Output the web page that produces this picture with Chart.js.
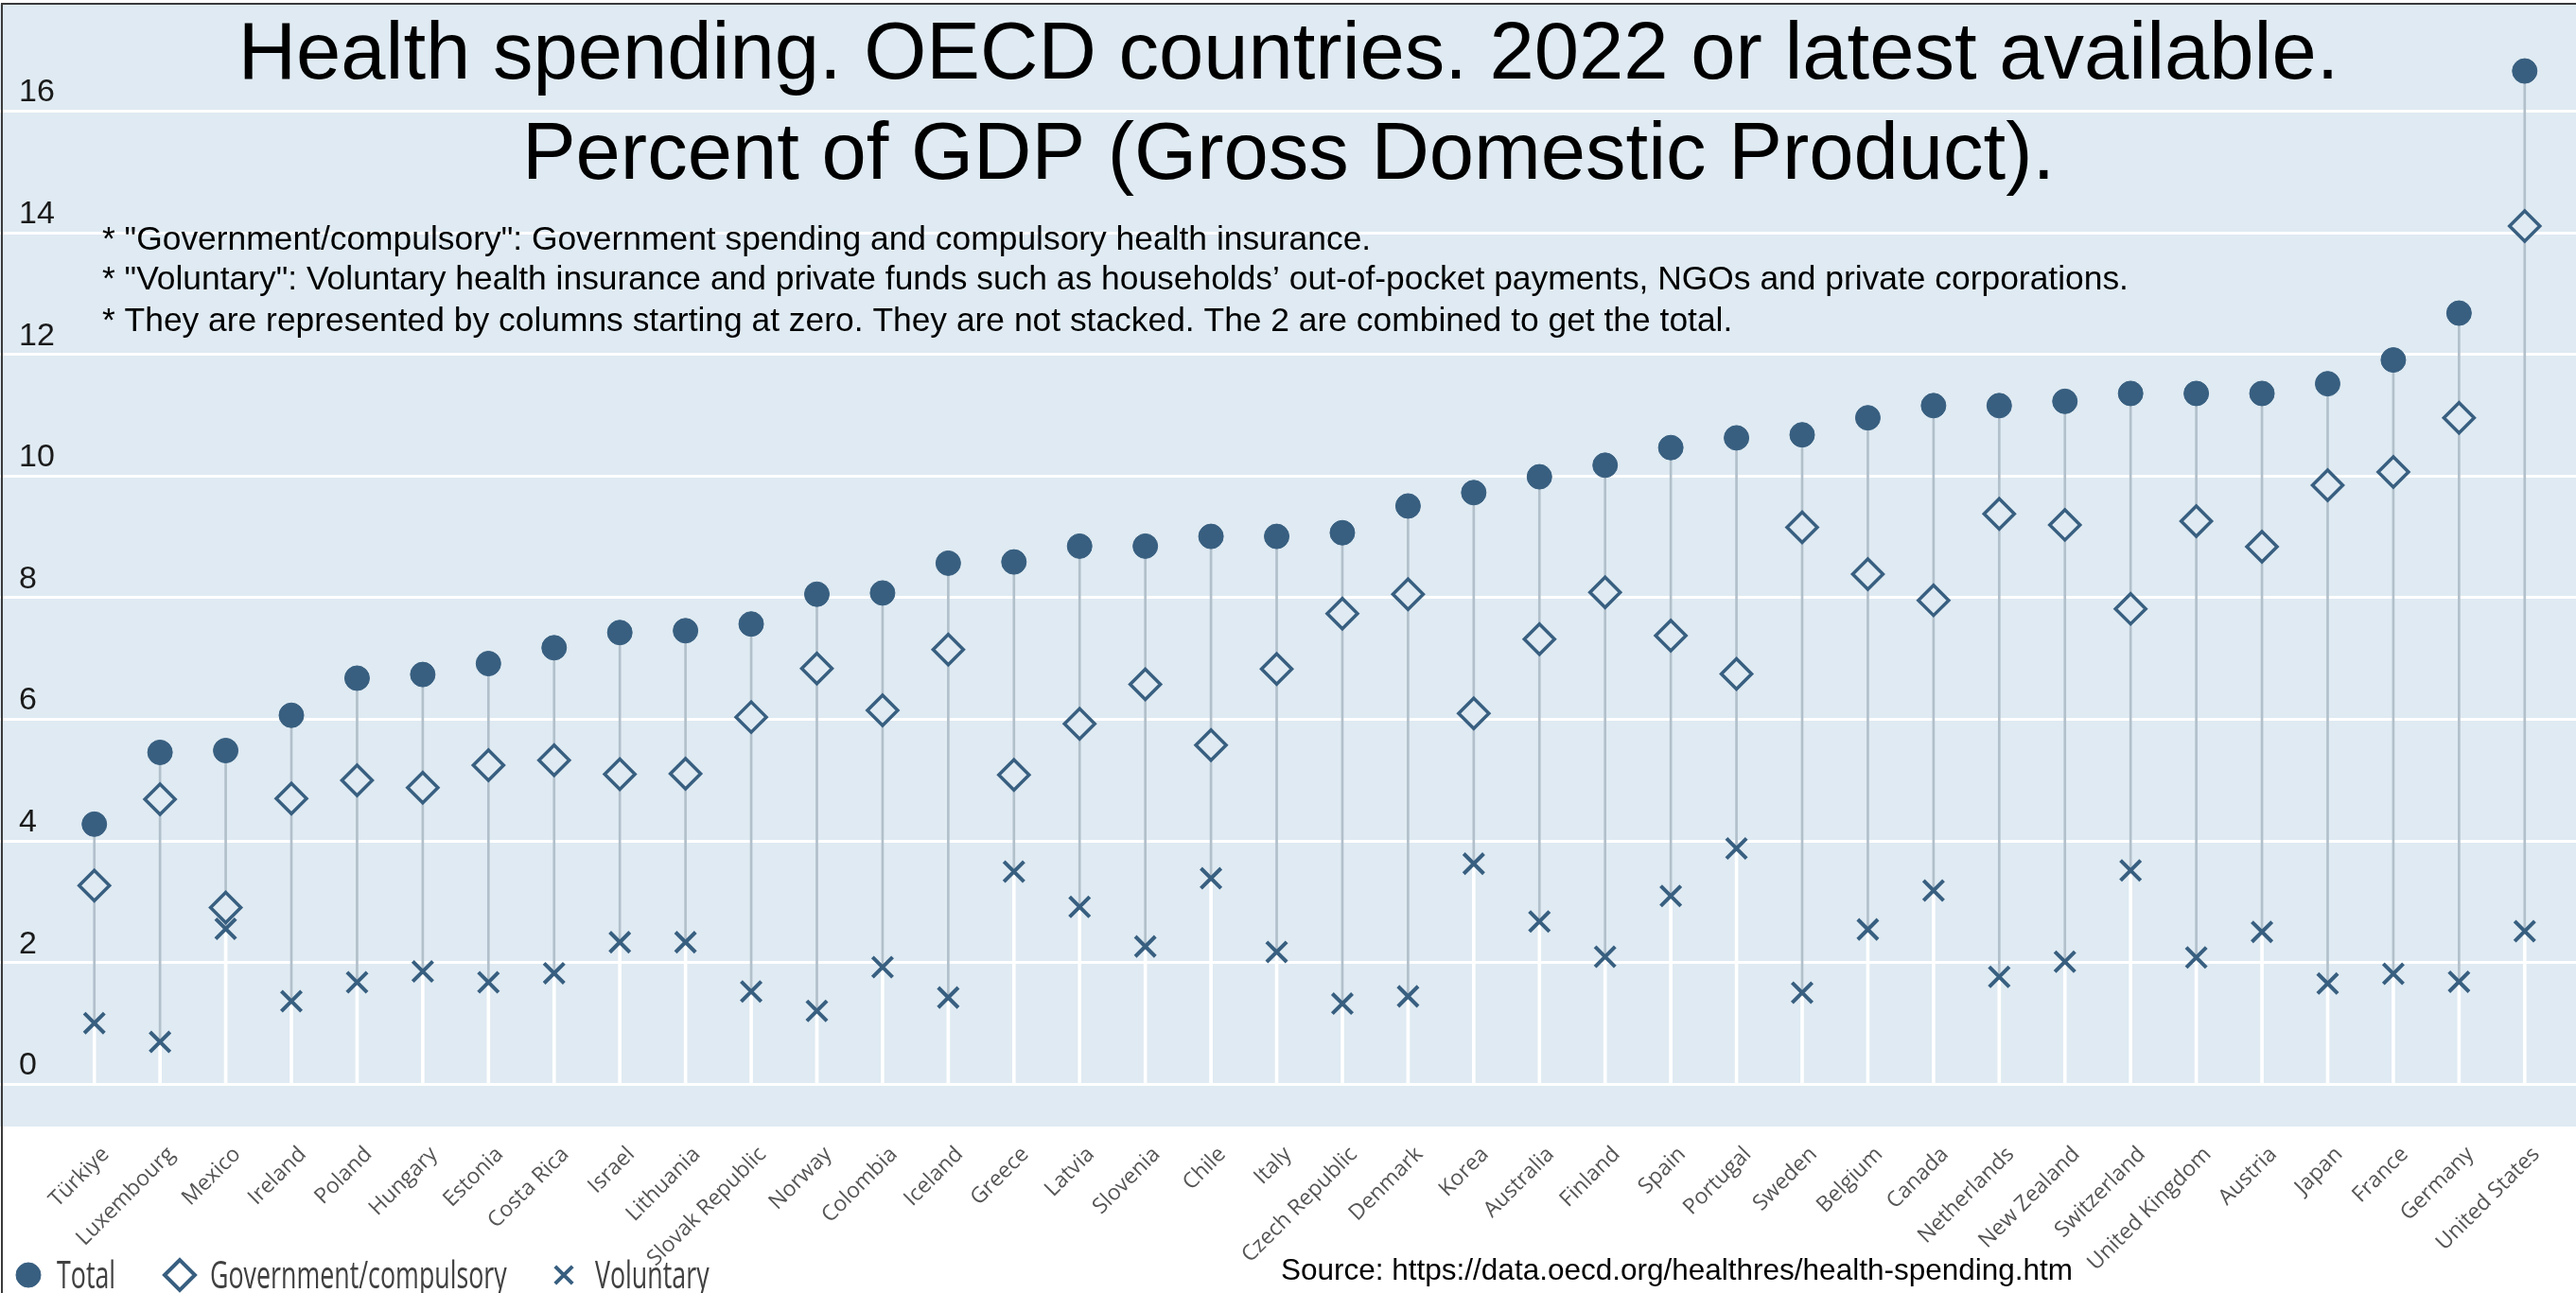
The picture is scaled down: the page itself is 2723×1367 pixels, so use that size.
<!DOCTYPE html>
<html>
<head>
<meta charset="utf-8">
<title>Health spending. OECD countries</title>
<script src="https://cdn.jsdelivr.net/npm/chart.js@4.4.1/dist/chart.umd.min.js"></script>
<style>
  html, body { margin: 0; padding: 0; background: #fff; }
  #wrap { width: 2723px; height: 1367px; position: relative; }
</style>
</head>
<body>
<div id="wrap"><canvas id="myChart"></canvas></div>
<script>
// countries, sorted by total spending
const countries = ['Türkiye', 'Luxembourg', 'Mexico', 'Ireland', 'Poland', 'Hungary', 'Estonia', 'Costa Rica',
  'Israel', 'Lithuania', 'Slovak Republic', 'Norway', 'Colombia', 'Iceland', 'Greece', 'Latvia', 'Slovenia',
  'Chile', 'Italy', 'Czech Republic', 'Denmark', 'Korea', 'Australia', 'Finland', 'Spain', 'Portugal', 'Sweden',
  'Belgium', 'Canada', 'Netherlands', 'New Zealand', 'Switzerland', 'United Kingdom', 'Austria', 'Japan',
  'France', 'Germany', 'United States'];

// % of GDP
const total = [4.27, 5.45, 5.48, 6.06, 6.67, 6.73, 6.91, 7.17, 7.42, 7.45, 7.56, 8.05, 8.07, 8.56, 8.58, 8.84,
  8.84, 9.0, 9.0, 9.06, 9.50, 9.72, 9.98, 10.17, 10.46, 10.62, 10.67, 10.95, 11.15, 11.15, 11.22, 11.35, 11.35,
  11.35, 11.51, 11.9, 12.67, 16.65];
const government = [3.26, 4.68, 2.90, 4.69, 4.99, 4.87, 5.24, 5.32, 5.09, 5.10, 6.03, 6.83, 6.14, 7.14, 5.08,
  5.92, 6.57, 5.57, 6.82, 7.73, 8.05, 6.09, 7.31, 8.08, 7.37, 6.74, 9.15, 8.38, 7.95, 9.37, 9.19, 7.81, 9.25,
  8.83, 9.84, 10.06, 10.95, 14.1];
const voluntary = [1.0, 0.69, 2.55, 1.36, 1.67, 1.85, 1.67, 1.82, 2.33, 2.33, 1.52, 1.20, 1.92, 1.42, 3.49,
  2.91, 2.26, 3.38, 2.17, 1.32, 1.44, 3.62, 2.67, 2.09, 3.09, 3.87, 1.50, 2.54, 3.18, 1.76, 2.01, 3.51, 2.08,
  2.50, 1.65, 1.81, 1.68, 2.51];

const yTicks = [0, 2, 4, 6, 8, 10, 12, 14, 16];

const titleLines = ['Health spending. OECD countries. 2022 or latest available.',
  'Percent of GDP (Gross Domestic Product).'];
const notes = ['* "Government/compulsory": Government spending and compulsory health insurance.',
  '* "Voluntary": Voluntary health insurance and private funds such as households\u2019 out-of-pocket payments, NGOs and private corporations.',
  '* They are represented by columns starting at zero. They are not stacked. The 2 are combined to get the total.'];
const sourceText = 'Source: https://data.oecd.org/healthres/health-spending.htm';

const markColor = '#385f80';
const plotBg = '#dfeaf2';

const lowest = countries.map((c, i) => Math.min(government[i], voluntary[i]));

const decorations = {
  id: 'decorations',
  beforeDraw(chart) {
    const { ctx, chartArea, scales } = chart;
    const y = scales.y;
    ctx.save();
    ctx.fillStyle = plotBg;
    ctx.fillRect(0, 4, chart.width, chartArea.bottom - 4);
    ctx.strokeStyle = '#ffffff';
    ctx.lineWidth = 3;
    y.ticks.forEach(t => {
      const py = Math.round(y.getPixelForValue(t.value)) + 0.5;
      ctx.beginPath();
      ctx.moveTo(0, py);
      ctx.lineTo(chart.width, py);
      ctx.stroke();
    });
    ctx.strokeStyle = '#3a3a3a';
    ctx.lineWidth = 2;
    ctx.beginPath();
    ctx.moveTo(2, chart.height);
    ctx.lineTo(2, 4);
    ctx.lineTo(chart.width, 4);
    ctx.stroke();
    ctx.restore();
  },
  afterDraw(chart) {
    const ctx = chart.ctx;
    ctx.save();
    ctx.fillStyle = '#000';
    ctx.textAlign = 'center';
    ctx.textBaseline = 'alphabetic';
    ctx.font = '85px "Liberation Sans", Arial, sans-serif';
    ctx.fillText(titleLines[0], 1362, 83);
    ctx.fillText(titleLines[1], 1362, 189);

    ctx.textAlign = 'left';
    ctx.font = '35.4px "Liberation Sans", Arial, sans-serif';
    ctx.fillText(notes[0], 108, 264);
    ctx.fillText(notes[1], 108, 306);
    ctx.fillText(notes[2], 108, 350);

    ctx.font = '31.5px "Liberation Sans", Arial, sans-serif';
    ctx.fillText(sourceText, 1354, 1353);

    // legend
    const ly = 1348;
    const items = [
      { label: 'Total', style: 'circle', r: 13, fill: markColor, x: 30, tx: 60 },
      { label: 'Government/compulsory', style: 'rectRot', r: 16, fill: 'rgba(0,0,0,0)', x: 190, tx: 222 },
      { label: 'Voluntary', style: 'crossRot', r: 13, fill: markColor, x: 596, tx: 629 }
    ];
    items.forEach(it => {
      ctx.fillStyle = it.fill;
      ctx.strokeStyle = markColor;
      ctx.lineWidth = it.style === 'circle' ? 1 : 4;
      Chart.helpers.drawPoint(ctx, { pointStyle: it.style, radius: it.r, rotation: 0, borderWidth: ctx.lineWidth }, it.x, ly);
      ctx.save();
      ctx.translate(it.tx, ly + 14);
      ctx.scale(0.67, 1);
      ctx.fillStyle = '#404040';
      ctx.font = '40px "Open Sans", sans-serif';
      ctx.fillText(it.label, 0, 0);
      ctx.restore();
    });
    ctx.restore();
  }
};

const ctx = document.getElementById('myChart').getContext('2d');
const myChart = new Chart(ctx, {
  data: {
    labels: countries,
    datasets: [
      {
        type: 'line',
        label: 'Total',
        data: total,
        showLine: false,
        pointStyle: 'circle',
        pointRadius: 13,
        pointBackgroundColor: markColor,
        pointBorderColor: markColor,
        pointBorderWidth: 1,
        order: 0
      },
      {
        type: 'line',
        label: 'Government/compulsory',
        data: government,
        showLine: false,
        pointStyle: 'rectRot',
        pointRadius: 16,
        pointBackgroundColor: plotBg,
        pointBorderColor: markColor,
        pointBorderWidth: 3.5,
        order: 0
      },
      {
        type: 'line',
        label: 'Voluntary',
        data: voluntary,
        showLine: false,
        pointStyle: 'crossRot',
        pointRadius: 15,
        pointBorderColor: markColor,
        pointBorderWidth: 4,
        order: 0
      },
      {
        type: 'bar',
        label: 'stem low',
        data: lowest.map(v => [0, v]),
        backgroundColor: '#ffffff',
        barThickness: 3,
        grouped: false,
        order: 2
      },
      {
        type: 'bar',
        label: 'stem high',
        data: lowest.map((v, i) => [v, total[i]]),
        backgroundColor: '#b2c0cb',
        barThickness: 2,
        grouped: false,
        order: 1
      }
    ]
  },
  options: {
    responsive: true,
    maintainAspectRatio: false,
    animation: false,
    layout: { padding: { left: 20, right: 14, top: 0, bottom: 0 } },
    scales: {
      x: {
        type: 'category',
        offset: true,
        grid: { display: false, drawTicks: false },
        border: { display: false },
        ticks: {
          autoSkip: false,
          maxRotation: 45,
          minRotation: 45,
          padding: 16,
          labelOffset: 12,
          color: '#555555',
          font: { family: '"Open Sans", sans-serif', size: 23 }
        },
        afterFit(scale) { scale.height = 176; }
      },
      y: {
        min: -0.7,
        max: 17.5,
        grid: { display: false },
        border: { display: false },
        afterBuildTicks(scale) { scale.ticks = yTicks.map(v => ({ value: v })); },
        ticks: {
          crossAlign: 'far',
          labelOffset: -19,
          padding: 0,
          color: '#1a1a1a',
          font: { family: '"Liberation Sans", Arial, sans-serif', size: 34 }
        },
        afterFit(scale) { scale.width = 45; }
      }
    },
    plugins: {
      legend: { display: false },
      title: { display: false },
      tooltip: { enabled: false }
    }
  },
  plugins: [decorations]
});
</script>
</body>
</html>
